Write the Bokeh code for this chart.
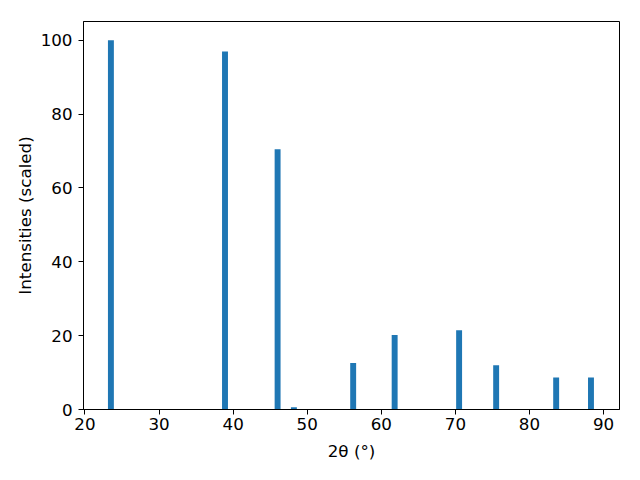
from bokeh.plotting import figure
from bokeh.models import Range1d, FixedTicker, ColumnDataSource
from bokeh.embed import file_html
from bokeh.resources import INLINE

two_theta = [23.5, 38.9, 46.0, 48.2, 56.2, 61.8, 70.5, 75.5, 83.6, 88.3]
intensity = [100.0, 97.0, 70.5, 0.6, 12.6, 20.2, 21.5, 12.0, 8.7, 8.7]
x_ticks = [20, 30, 40, 50, 60, 70, 80, 90]
y_ticks = [0, 20, 40, 60, 80, 100]

src = ColumnDataSource(dict(x=two_theta, top=intensity))

p = figure(width=624, height=464, output_backend="svg", toolbar_location=None,
           x_range=Range1d(19.8, 92.15), y_range=Range1d(0, 105.1),
           frame_width=536, frame_height=388,
           min_border_left=83, min_border_right=5, min_border_top=21, min_border_bottom=55)
p.vbar(x="x", top="top", width=0.8, bottom=0, source=src, color="#1f77b4", line_color=None)

p.xgrid.visible = False
p.ygrid.visible = False
p.outline_line_color = "black"
p.outline_line_width = 1
p.background_fill_color = "white"
p.border_fill_color = "white"

p.xaxis.ticker = FixedTicker(ticks=x_ticks)
p.yaxis.ticker = FixedTicker(ticks=y_ticks)
p.xaxis.axis_label = "2θ (°)"
p.yaxis.axis_label = "Intensities (scaled)"
for ax in (p.xaxis, p.yaxis):
    ax.axis_line_color = "black"
    ax.axis_line_width = 1
    ax.major_tick_in = 0
    ax.major_tick_out = 5
    ax.major_tick_line_color = "black"
    ax.minor_tick_line_color = None
    ax.major_label_text_font = "DejaVu Sans"
    ax.major_label_text_font_size = "16.7px"
    ax.major_label_text_color = "black"
    ax.axis_label_text_font = "DejaVu Sans"
    ax.axis_label_text_font_size = "16.7px"
    ax.axis_label_text_font_style = "normal"
    ax.axis_label_text_color = "black"
p.xaxis.major_label_standoff = 3
p.yaxis.major_label_standoff = 6
p.xaxis.axis_label_standoff = 8
p.yaxis.axis_label_standoff = 3

open("out.html", "w").write(file_html(p, INLINE))
